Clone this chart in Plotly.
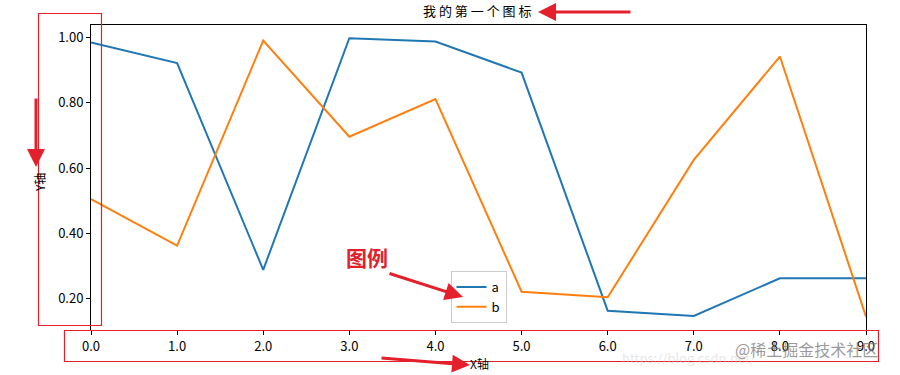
import plotly.graph_objects as go

x_vals = [0, 1, 2, 3, 4, 5, 6, 7, 8, 9]
series_a = [0.984, 0.921, 0.289, 0.997, 0.987, 0.892, 0.164, 0.148, 0.263, 0.263]
series_b = [0.505, 0.363, 0.990, 0.696, 0.811, 0.222, 0.205, 0.625, 0.941, 0.146]
x_ticks = [0, 1, 2, 3, 4, 5, 6, 7, 8, 9]
x_tick_labels = ["0.0", "1.0", "2.0", "3.0", "4.0", "5.0", "6.0", "7.0", "8.0", "9.0"]
y_ticks = [0.2, 0.4, 0.6, 0.8, 1.0]
y_tick_labels = ["0.20", "0.40", "0.60", "0.80", "1.00"]

W, H = 900, 375
L, R, T, B = 91, 866, 25, 330
FONT = "Noto Sans CJK SC, Noto Sans, sans-serif"
RED = "#e3202b"


def px(xp):
    return (xp - L) / (R - L)


def py(yp):
    return (B - yp) / (B - T)


fig = go.Figure()
fig.add_trace(go.Scatter(x=x_vals, y=series_a, mode="lines", name="a",
                         line=dict(color="#1f77b4", width=2)))
fig.add_trace(go.Scatter(x=x_vals, y=series_b, mode="lines", name="b",
                         line=dict(color="#ff7f0e", width=2)))

axis_common = dict(showline=True, linecolor="black", linewidth=1, mirror=True,
                   showgrid=False, zeroline=False, ticks="outside", ticklen=4,
                   tickcolor="black", tickfont=dict(family=FONT, size=13, color="black"))

fig.update_xaxes(range=[0, 9], tickvals=x_ticks, ticktext=x_tick_labels, **axis_common)
fig.update_yaxes(range=[0.105, 1.0375], tickvals=y_ticks, ticktext=y_tick_labels, **axis_common)

shapes = [
    dict(type="rect", xref="paper", yref="paper", x0=px(38.5), x1=px(101.5), y0=py(325.5), y1=py(13.5),
         line=dict(color=RED, width=1.2)),
    dict(type="rect", xref="paper", yref="paper", x0=px(64.5), x1=px(878.5), y0=py(361.5), y1=py(330.5),
         line=dict(color=RED, width=1.2)),
]

annotations = [
    dict(text="我 的 第 一 个 图 标", xref="paper", yref="paper", x=px(477), y=py(11), showarrow=False,
         font=dict(family=FONT, size=13, color="black"), xanchor="center", yanchor="middle"),
    dict(text="Y轴", xref="paper", yref="paper", x=px(39), y=py(183), showarrow=False, textangle=-90,
         font=dict(family=FONT, size=12, color="black"), xanchor="center", yanchor="middle"),
    dict(text="X轴", xref="paper", yref="paper", x=px(479), y=py(363), showarrow=False,
         font=dict(family=FONT, size=12, color="black"), xanchor="center", yanchor="middle"),
    dict(text="<b>图例</b>", xref="paper", yref="paper", x=px(367), y=py(257), showarrow=False,
         font=dict(family=FONT, size=21, color=RED), xanchor="center", yanchor="middle"),
    dict(text="https://blog.csdn.net/", xref="paper", yref="paper", x=px(620), y=py(357), showarrow=False,
         font=dict(family=FONT, size=13, color="rgba(200,200,200,0.45)"), xanchor="left", yanchor="middle"),
    dict(text="@稀土掘金技术社区", xref="paper", yref="paper", x=px(806), y=py(349), showarrow=False,
         font=dict(family=FONT, size=16, color="rgba(120,120,120,0.75)"), xanchor="center", yanchor="middle"),
]

# red arrows: (head_x, head_y, tail_x, tail_y)
arrows = [(538, 12, 632, 12), (36, 167, 36, 97), (463, 297, 388, 273), (470, 365, 380, 358)]
for hx, hy, tx, ty in arrows:
    annotations.append(dict(text="", xref="paper", yref="paper", x=px(hx), y=py(hy),
                            ax=tx - hx, ay=ty - hy, showarrow=True, arrowhead=2,
                            arrowsize=1.2, arrowwidth=3, arrowcolor=RED))

fig.update_layout(
    width=W, height=H,
    margin=dict(l=L, r=W - R, t=T, b=H - B, pad=0),
    paper_bgcolor="white", plot_bgcolor="white",
    font=dict(family=FONT, size=13, color="black"),
    showlegend=True,
    legend=dict(x=0.5, y=py(323), xanchor="center", yanchor="bottom",
                bgcolor="white", bordercolor="#cccccc", borderwidth=1,
                font=dict(family=FONT, size=13, color="black"),
                tracegroupgap=0, itemwidth=30),
    shapes=shapes,
    annotations=annotations,
)

fig.write_html("out.html", config={"displayModeBar": False},
               post_script="document.body.style.margin='0';document.body.style.overflow='hidden';")
